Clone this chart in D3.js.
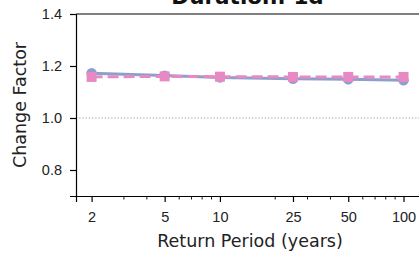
<!DOCTYPE html>
<html>
<head>
<meta charset="utf-8">
<script src="https://cdn.jsdelivr.net/npm/d3@7"></script>
<style>
  body { margin: 0; background: #fff; }
  svg { display: block; font-family: "DejaVu Sans", sans-serif; }
</style>
</head>
<body>
<div id="chart"></div>
<script>
// return periods and change factors
const periods = [2, 5, 10, 25, 50, 100];
const seriesA = [1.172, 1.163, 1.156, 1.151, 1.149, 1.145];
const seriesB = [1.158, 1.160, 1.159, 1.158, 1.158, 1.158];
const yTicks = [0.8, 1.0, 1.2, 1.4];
const minorTicks = [3, 4, 6, 7, 8, 9, 20, 30, 40, 60, 70, 80, 90];

width = 419;
height = 253;

const margin = {left: 76, top: 14, bottom: 196};

// log x, matplotlib-ish 5% padding
const lo = Math.log10(2), hi = Math.log10(100), pad = (hi - lo) * 0.05;
x = d3.scaleLog()
  .domain([Math.pow(10, lo - pad), Math.pow(10, hi + pad)])
  .range([margin.left, margin.left + 183.6 * (hi - lo + 2 * pad)]);

y = d3.scaleLinear()
  .domain([0.7, 1.4])
  .range([margin.bottom, margin.top]);

const svg = d3.select("#chart").append("svg")
  .attr("width", width)
  .attr("height", height);

// reference line at 1.0
svg.append("line")
  .attr("x1", x.range()[0]).attr("x2", x.range()[1])
  .attr("y1", y(1)).attr("y2", y(1))
  .attr("stroke", "#999").attr("stroke-width", 1)
  .attr("stroke-dasharray", "1.2,2");

const line = d3.line()
  .x(d => x(d[0]))
  .y(d => y(d[1]));

const dataA = periods.map((p, i) => [p, seriesA[i]]);
const dataB = periods.map((p, i) => [p, seriesB[i]]);

svg.append("path")
  .attr("d", line(dataA))
  .attr("fill", "none")
  .attr("stroke", "#8da0cb")
  .attr("stroke-width", 3);

svg.selectAll("circle")
  .data(dataA)
  .enter()
  .append("circle")
  .attr("cx", d => x(d[0]))
  .attr("cy", d => y(d[1]))
  .attr("r", 5.2)
  .attr("fill", "#8da0cb");

svg.append("path")
  .attr("d", line(dataB))
  .attr("fill", "none")
  .attr("stroke", "#e78ac3")
  .attr("stroke-width", 3)
  .attr("stroke-dasharray", "11,5");

svg.selectAll("rect.sq")
  .data(dataB)
  .enter()
  .append("rect")
  .attr("class", "sq")
  .attr("x", d => x(d[0]) - 5)
  .attr("y", d => y(d[1]) - 5)
  .attr("width", 10)
  .attr("height", 10)
  .attr("fill", "#e78ac3");

// axes
const xAxis = d3.axisBottom(x)
  .tickValues(periods)
  .tickFormat(d3.format("d"))
  .tickSizeOuter(0)
  .tickSize(6)
  .tickPadding(10);

const gx = svg.append("g")
  .attr("transform", `translate(0,${margin.bottom})`)
  .call(xAxis);
gx.select(".domain").attr("stroke-width", 1.2);
gx.selectAll(".tick line").attr("stroke-width", 1.2);
gx.selectAll("text").attr("font-size", "14.5px").attr("fill", "#222");

svg.append("g")
  .attr("transform", `translate(0,${margin.bottom})`)
  .selectAll("line")
  .data(minorTicks)
  .enter()
  .append("line")
  .attr("x1", d => x(d)).attr("x2", d => x(d))
  .attr("y1", 0).attr("y2", 3.5)
  .attr("stroke", "#000").attr("stroke-width", 0.9);

const gy = svg.append("g")
  .attr("transform", `translate(${margin.left},0)`)
  .call(d3.axisLeft(y).tickValues(yTicks).tickFormat(d3.format(".1f")).tickSizeOuter(0).tickSize(6).tickPadding(8));
gy.select(".domain").attr("stroke-width", 1.2);
gy.selectAll(".tick line").attr("stroke-width", 1.2);
gy.selectAll("text").attr("font-size", "14.5px").attr("fill", "#222");

// top spine
svg.append("line")
  .attr("x1", margin.left).attr("x2", x.range()[1])
  .attr("y1", margin.top).attr("y2", margin.top)
  .attr("stroke", "#000").attr("stroke-width", 1.2);

// title, partly off the top
svg.append("text")
  .attr("x", (margin.left + x.range()[1]) / 2)
  .attr("y", 4)
  .attr("text-anchor", "middle")
  .attr("font-size", "21.5px")
  .attr("font-weight", "bold")
  .attr("fill", "#111")
  .text("Duration: 1d");

svg.append("text")
  .attr("x", 250)
  .attr("y", 247)
  .attr("text-anchor", "middle")
  .attr("font-size", "17.5px")
  .attr("fill", "#222")
  .text("Return Period (years)");

svg.append("text")
  .attr("transform", `translate(26,${(margin.top + margin.bottom) / 2}) rotate(-90)`)
  .attr("text-anchor", "middle")
  .attr("font-size", "17.5px")
  .attr("fill", "#222")
  .text("Change Factor");
</script>
</body>
</html>
